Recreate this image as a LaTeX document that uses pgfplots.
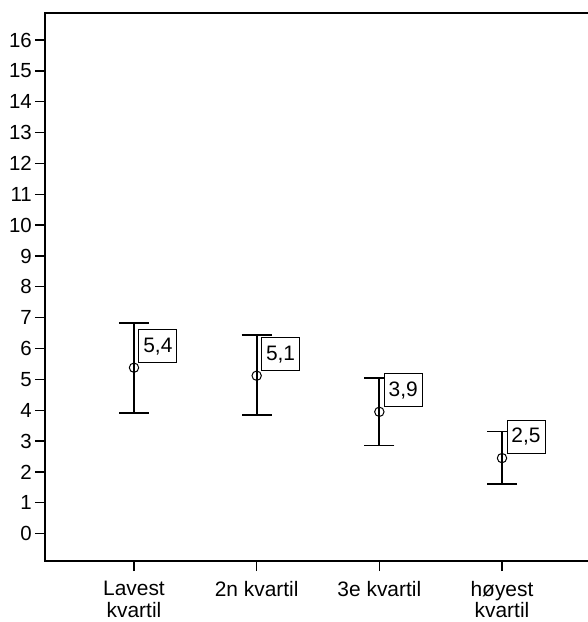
\documentclass[border=0pt]{standalone}
\usepackage{pgfplots}
\pgfplotsset{compat=1.18}
\usepackage{fontspec}
\setmainfont{Liberation Sans}
\begin{document}
\begin{tikzpicture}
\path[use as bounding box] (-45bp,-61bp) rectangle (543bp,561bp);
\begin{axis}[
  at={(0,0)}, anchor=south west,
  scale only axis, width=546bp, height=548bp,
  xmin=-0.7255, xmax=3.7255,
  ymin=-0.885, ymax=16.875,
  axis line style={line width=1.3bp},
  tick style={line width=1.3bp, black},
  tick align=outside, major tick length=10bp,
  xtick={0,1,2,3},
  xticklabels={{Lavest\\kvartil},{2n kvartil},{3e kvartil},{høyest\\kvartil}},
  xticklabel style={align=center, font=\fontsize{21}{21.5}\selectfont, inner sep=0pt, yshift=-10bp},
  ytick={0,...,16},
  yticklabel style={font=\fontsize{20.5}{22}\selectfont, inner sep=0pt, xshift=-3bp},
  /pgf/number format/assume math mode=true,
  xtick pos=bottom, ytick pos=left,
  clip=false,
  error bars/error bar style={line width=2bp, black},
]
\addplot[only marks, black, mark=o, mark size=4.7bp,
  mark options={fill=white, draw=black, line width=1bp},
  point meta=explicit symbolic,
  nodes near coords,
  nodes near coords style={anchor=south west, draw=black, fill=white, line width=0.8bp,
    font=\fontsize{21}{23}\selectfont, inner sep=0pt, minimum width=38bp, minimum height=33bp,
    xshift=4.5bp, yshift=4.6bp},
  error bars/.cd, y dir=both, y explicit,
  error bar style={line width=2bp, black},
  error mark options={rotate=90, mark size=15bp, line width=1.8bp, black}]
table[x=x, y=y, y error plus=ep, y error minus=em, meta=lab] {
x y ep em lab
0 5.38 1.46 1.46 5,4
1 5.12 1.31 1.27 5,1
2 3.95 1.09 1.09 3,9
3 2.45 0.86 0.84 2,5
};
\end{axis}
\end{tikzpicture}
\end{document}
